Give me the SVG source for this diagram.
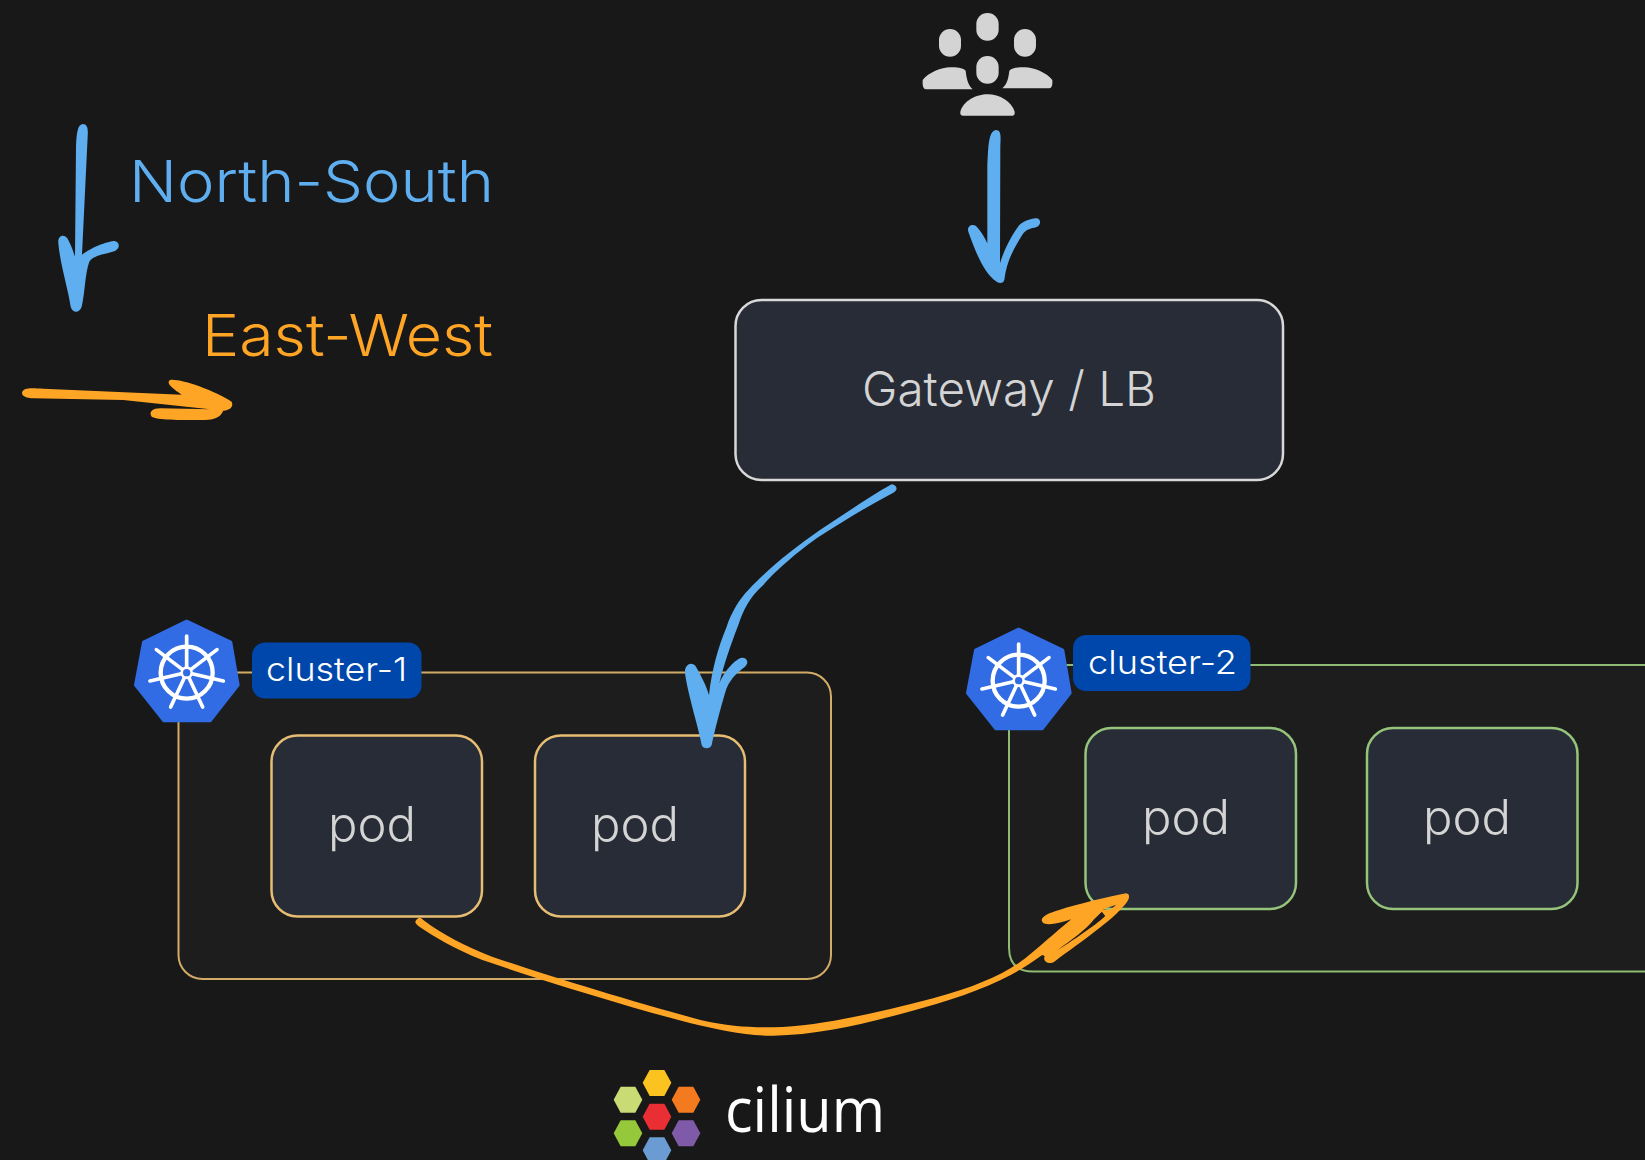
<svg xmlns="http://www.w3.org/2000/svg" xmlns:xlink="http://www.w3.org/1999/xlink" width="1645" height="1160" viewBox="0 0 1645 1160">
<style>
.t{font-family:"Inter","Liberation Sans",sans-serif;font-weight:300}
.light{fill:#d4d4d4;font-size:48px}
.cl{fill:#fff;font-size:33px}
.c1{fill:#1d1d1d;stroke:#d2ab66;stroke-width:2}
.c2{fill:#1d1d1d;stroke:#8fbb72;stroke-width:2}
.p1{fill:#282c36;stroke:#e6bd72;stroke-width:2.5}
.p2{fill:#282c36;stroke:#95c47a;stroke-width:2.5}
.badge{fill:#0047ab}
.b{fill:#5eaef0}
.o{fill:#ffa526}
.ppl{fill:#d4d4d4}
</style>
<defs>
<g id="k8s">
<path d="M200,34L332,97L354,225L270,332L132,332L47,225L71,97Z" fill="#326ce5" stroke="#326ce5" stroke-width="10" stroke-linejoin="round"/>
<g fill="none" stroke="#fff" stroke-linecap="round">
<circle cx="200" cy="188" r="78" stroke-width="13"/>
<g stroke-width="11">
<path d="M200,178V78"/>
<path d="M208,182L291,119"/>
<path d="M210,190L310,213"/>
<path d="M204,197L248,291"/>
<path d="M196,197L152,291"/>
<path d="M190,190L90,213"/>
<path d="M192,182L109,119"/>
</g>
</g>
<circle cx="200" cy="188" r="19" fill="#fff"/>
<circle cx="200" cy="188" r="11" fill="#326ce5"/>
</g>
</defs>
<rect width="1645" height="1160" fill="#181818"/>

<g id="users" transform="translate(900,0) scale(.3333)" class="ppl">
<rect x="229" y="39" width="67" height="83" rx="33"/>
<rect x="117" y="87" width="66" height="83" rx="33"/>
<rect x="342" y="87" width="66" height="83" rx="33"/>
<rect x="229" y="168" width="67" height="83" rx="33"/>
<path d="M181,335C190,302 230,283 262,283C300,283 335,305 344,335V340Q344,347 338,347H188Q181,347 181,340Z"/>
<path d="M68,240C85,218 125,202 150,202C170,202 187,203 197,212C200,240 205,255 218,268H78Q66,268 68,240Z"/>
<path d="M457,240C440,218 400,202 375,202C355,202 338,203 328,212C325,240 320,252 307,265H447Q459,265 457,240Z"/>
</g>

<g id="legend-ns">
<text class="t" x="129" y="202" font-size="58" fill="#5eaef0" textLength="365" lengthAdjust="spacingAndGlyphs">North-South</text>
</g>
<g id="legend-ew">
<text class="t" x="202" y="356" font-size="58" fill="#ffa526" textLength="291" lengthAdjust="spacingAndGlyphs">East-West</text>
</g>

<g id="gateway">
<rect x="735.5" y="300" width="547.5" height="180" rx="26" fill="#282c36" stroke="#d8d8d8" stroke-width="2.5"/>
<text class="t light" x="862" y="406" textLength="294" lengthAdjust="spacingAndGlyphs">Gateway / LB</text>
</g>

<g id="cluster-1">
<rect class="c1" x="178.500" y="672.500" width="652.500" height="306.500" rx="24"/>
<use xlink:href="#k8s" href="#k8s" transform="translate(120,610) scale(.3333)"/>
<rect class="badge" x="252" y="642.500" width="169.500" height="56" rx="13"/>
<text class="t cl" x="266" y="681" textLength="141" lengthAdjust="spacingAndGlyphs">cluster-1</text>
</g>
<g id="pod-1-1">
<rect class="p1" x="271.500" y="735.500" width="210.500" height="181" rx="26"/>
<text class="t light" x="328" y="841" textLength="88" lengthAdjust="spacingAndGlyphs">pod</text>
</g>
<g id="pod-1-2">
<rect class="p1" x="535" y="735.500" width="210" height="181" rx="26"/>
<text class="t light" x="591" y="841" textLength="88" lengthAdjust="spacingAndGlyphs">pod</text>
</g>

<g id="cluster-2">
<path class="c2" d="M1650,665H1033Q1009,665 1009,689V947.500Q1009,971.500 1033,971.500H1650"/>
<use xlink:href="#k8s" href="#k8s" transform="translate(952,618) scale(.3333)"/>
<rect class="badge" x="1073" y="635" width="177.500" height="56" rx="13"/>
<text class="t cl" x="1088" y="674" textLength="149" lengthAdjust="spacingAndGlyphs">cluster-2</text>
</g>
<g id="pod-2-1">
<rect class="p2" x="1085.500" y="728" width="210.500" height="181" rx="26"/>
<text class="t light" x="1142" y="834" textLength="88" lengthAdjust="spacingAndGlyphs">pod</text>
</g>
<g id="pod-2-2">
<rect class="p2" x="1367" y="728" width="210.500" height="181" rx="26"/>
<text class="t light" x="1423" y="834" textLength="88" lengthAdjust="spacingAndGlyphs">pod</text>
</g>

<g id="cilium">
<g transform="translate(590,1050) scale(.3333)">
<path d="M158,98L179,60H223L244,98L223,138H179Z" fill="#fbc31f"/>
<path d="M245,149L266,110H310L331,149L310,188H266Z" fill="#f47a20"/>
<path d="M71,149L92,110H136L157,149L136,188H92Z" fill="#c9db74"/>
<path d="M158,200L179,161H223L244,200L223,239H179Z" fill="#e92f33"/>
<path d="M71,250L92,211H136L157,250L136,289H92Z" fill="#95c83a"/>
<path d="M245,250L266,211H310L331,250L310,289H266Z" fill="#7f5aa8"/>
<path d="M158,301L179,262H223L244,301L223,340H179Z" fill="#6a9bd2"/>
</g>
<text x="725" y="1132" font-family="'Open Sans','Liberation Sans',sans-serif" font-size="62" fill="#fff" textLength="160" lengthAdjust="spacingAndGlyphs">cilium</text>
</g>

<g id="connectors">
<path class="b" transform="translate(0,100) scale(.3333)" d="M248,72C262,72 265,85 263,110L246,465C255,455 300,430 340,423C360,423 362,445 345,453C320,462 280,465 268,485C255,520 255,580 245,620C238,640 218,640 212,620C205,570 180,490 175,430C172,405 195,400 205,420C215,440 220,455 225,470L228,140C230,100 232,75 248,72Z"/>
<path class="o" transform="translate(0,100) scale(.3333)" d="M66,878C70,860 100,865 130,866L545,884C525,870 495,850 510,840C540,835 640,870 695,905C702,920 690,930 670,932C660,955 640,960 600,960C540,960 470,960 455,950C445,935 460,925 480,925L630,928L370,900L100,895C80,893 66,890 66,878Z"/>
<path class="b" transform="translate(900,0) scale(.3333)" d="M287,390C305,390 302,410 301,440L300,790C315,740 340,700 358,675C375,660 400,655 412,655C425,660 422,678 408,682C395,685 380,688 370,700C345,740 320,780 313,840C310,850 300,852 290,845C250,820 225,750 205,695C200,680 215,670 228,678C245,695 255,715 262,730V500C265,440 265,395 287,390Z"/>
<path class="b" transform="translate(660,470) scale(.3333)" d="M695,43C712,45 715,60 700,68C620,110 540,160 470,205C400,255 340,310 310,345C270,380 250,420 235,465C210,530 190,590 178,640C190,610 220,570 245,563C262,562 268,578 255,590C230,610 205,630 195,670C180,720 165,780 155,825C150,838 130,838 125,825C115,770 85,680 75,610C72,585 95,572 108,590C125,620 140,650 147,675C155,600 175,530 200,470C215,425 240,385 265,360C320,300 400,235 480,180C550,135 620,85 695,43Z"/>
<path class="o" fill-rule="evenodd" transform="translate(400,880) scale(.4847,.3333)" d="M35,118C40,108 45,115 50,122C90,165 130,195 190,230C300,285 480,365 620,420C680,440 720,442 770,442C860,440 980,400 1100,355C1190,320 1250,280 1290,235C1320,200 1350,160 1385,118C1360,130 1340,137 1328,130C1315,115 1335,100 1360,90C1400,72 1460,50 1498,40C1508,42 1505,60 1495,75C1470,120 1410,180 1350,245C1340,255 1325,245 1330,228L1325,225C1300,250 1280,270 1260,285C1200,330 1130,365 1050,395C950,435 860,465 770,467C710,468 660,450 600,430C470,380 300,305 170,240C110,205 70,170 40,140C30,130 30,125 35,118ZM1355,212C1385,180 1415,150 1432,118L1448,95L1455,108C1440,130 1400,170 1355,212ZM1450,88L1478,74L1465,90Z"/>
</g>
</svg>
